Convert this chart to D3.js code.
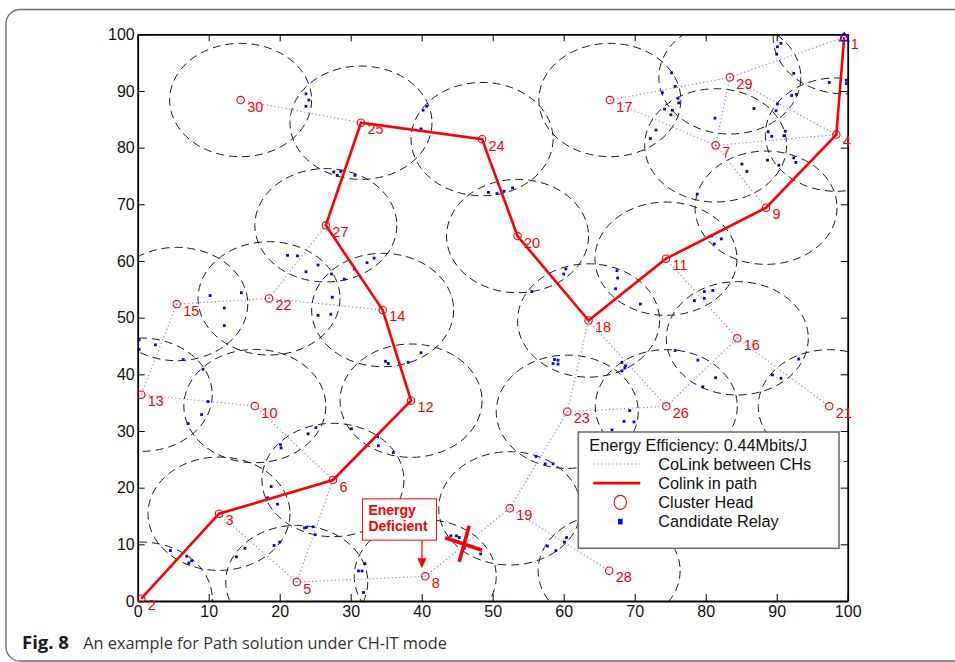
<!DOCTYPE html>
<html>
<head>
<meta charset="utf-8">
<script src="https://cdn.jsdelivr.net/npm/d3@7"></script>
<style>
  html, body { margin: 0; padding: 0; background: #fff; }
  svg { display: block; }
  .tick text { font-family: "Liberation Sans", Arial, Helvetica, sans-serif; }
</style>
</head>
<body>
<svg id="chart" width="955" height="662"></svg>
<script>
// Cluster heads: id, x, y (metres in a 100 x 100 field)
const chIds = [1, 2, 3, 4, 5, 6, 7, 8, 9, 10, 11, 12, 13, 14, 15, 16, 17, 18, 19, 20, 21, 22, 23, 24, 25, 26, 27, 28, 29, 30];
const chX   = [99.5, 0.5, 11.45, 98.4, 22.4, 27.5, 81.4, 40.5, 88.5, 16.5, 74.4, 38.5, 0.5, 34.5, 5.5, 84.45, 66.5, 63.5, 52.4, 53.5, 97.4, 18.5, 60.5, 48.5, 31.45, 74.45, 26.5, 66.4, 83.4, 14.5];
const chY   = [99.5, 0.4, 15.4, 82.3, 3.35, 21.35, 80.4, 4.35, 69.4, 34.4, 60.4, 35.35, 36.4, 51.35, 52.4, 46.35, 88.4, 49.5, 16.35, 64.4, 34.35, 53.4, 33.4, 81.5, 84.4, 34.35, 66.3, 5.35, 92.4, 88.4];

// Sink node (drawn with a triangle)
const sinkId = 1;

// Cluster coverage radius
const clusterRadius = 10;

// Cooperative links between neighbouring cluster heads
const coLinkFrom = [30, 15, 22, 22, 15, 13, 10, 3, 5, 5, 8, 19, 19, 23, 23, 18, 26, 16, 16, 17, 17, 29, 29, 29, 7, 7];
const coLinkTo   = [25, 22, 14, 27, 13, 10, 6, 5, 6, 8, 19, 23, 28, 18, 26, 26, 16, 21, 11, 29, 7, 1, 4, 7, 4, 9];

// Selected routing path from source CH 2 to the sink
const pathIds = [2, 3, 6, 12, 14, 27, 25, 24, 20, 18, 11, 9, 4, 1];

// Candidate relay nodes
const relayX = [23.7, 24.1, 23.7, 40.7, 40.2, 39.9, 27.6, 28.1, 28.6, 30.6, 49.4, 50.6, 51.6, 52.8,
  21.1, 22.5, 25.4, 23.7, 27.3, 29.1, 30.5, 32.3, 33.3, 10.2, 14.6, 12.2, 12.2, 27.4, 27.2, 25.4,
  0.2, 0.2, 2.5, 6.4, 9.2, 9.9, 9.0, 7.1, 20.1, 20.2, 24.0, 25.1, 18.8, 18.3, 19.7,
  23.5, 23.8, 24.7, 25.0, 20.0, 19.2, 15.1, 13.9, 4.6, 6.9, 7.2, 7.6, 31.1, 31.6, 32.0, 31.8,
  44.1, 44.9, 45.3, 46.0, 48.3, 30.1, 33.8, 33.9, 36.0, 34.9, 35.3, 38.1, 39.9,
  60.3, 60.0, 55.5, 67.5, 67.6, 67.3, 70.8, 80.8, 82.2, 81.2, 78.8, 85.1, 85.8,
  88.7, 90.3, 92.4, 92.7, 88.8, 89.3, 91.2, 91.0, 89.9, 90.1, 81.3, 86.8,
  90.1, 90.6, 90.0, 92.4, 97.4, 99.8, 99.8, 92.8, 92.1,
  75.2, 75.7, 73.9, 76.1, 76.2, 74.2, 75.3, 75.1, 73.0, 72.2,
  58.7, 59.2, 58.5, 59.2, 68.2, 68.7, 68.2, 68.6, 69.3, 68.5, 69.9, 66.8,
  56.1, 57.4, 58.5, 57.7, 58.9, 60.1, 60.4, 75.7, 78.9, 81.4, 79.6, 89.4, 90.6, 93.1,
  78.4, 79.8, 81.0, 79.8];
const relayY = [89.5, 88.4, 87.3, 87.3, 86.6, 83.3, 75.7, 75.1, 75.8, 75.1, 72.1, 71.9, 72.3, 72.9,
  61.0, 60.9, 59.3, 58.1, 57.7, 56.8, 58.6, 59.7, 60.5, 53.9, 54.4, 51.7, 48.6, 53.6, 50.6, 50.4,
  46.1, 44.4, 45.2, 42.6, 40.9, 35.2, 32.9, 31.3, 27.6, 27.0, 29.5, 30.6, 20.2, 18.2, 17.1,
  12.9, 13.0, 13.1, 11.7, 10.4, 9.8, 9.3, 7.8, 8.9, 7.9, 6.7, 7.1, 5.3, 5.3, 6.6, 1.5,
  11.5, 11.5, 11.2, 9.3, 8.3, 30.4, 29.0, 27.4, 26.2, 42.3, 41.9, 42.1, 43.8,
  58.6, 57.7, 54.6, 58.3, 57.0, 55.1, 52.4, 64.4, 63.9, 63.0, 71.8, 77.1, 75.8,
  77.8, 76.9, 78.2, 77.4, 82.8, 82.0, 82.9, 82.1, 86.5, 87.7, 85.2, 86.9,
  97.8, 98.4, 96.5, 93.1, 91.5, 91.9, 91.3, 89.4, 89.2,
  93.2, 90.8, 89.7, 88.7, 87.9, 86.8, 86.6, 85.8, 83.1, 81.6,
  42.6, 42.5, 41.9, 41.8, 42.1, 41.5, 40.6, 41.1, 33.6, 31.7, 31.6, 30.2,
  25.5, 24.2, 24.2, 9.7, 8.9, 10.4, 11.2, 44.2, 42.5, 39.4, 37.8, 39.9, 39.3, 42.7,
  53.0, 54.6, 54.8, 53.4];

// Axis ticks
const tickValues = [0, 10, 20, 30, 40, 50, 60, 70, 80, 90, 100];

// Legend entries and the efficiency figure
const efficiencyLabel = "Energy Efficiency: 0.44Mbits/J";
const legendLabels = ["CoLink between CHs", "Colink in path", "Cluster Head", "Candidate Relay"];

// Link that fails for lack of energy, and where its cross sits
const brokenLink = { from: 8, to: 19, crossX: 45.7, crossY: 10.2 };
const deficientNode = 8;
const deficientText = ["Energy", "Deficient"];

const caption = { bold: "Fig. 8", text: "An example for Path solution under CH-IT mode" };

// ---------------------------------------------------------------
const svg = d3.select("#chart");
const plot = { left: 137.7, right: 847.7, top: 34.3, bottom: 601 };

const x = d3.scaleLinear().domain([0, 100]).range([plot.left, plot.right]);
const y = d3.scaleLinear().domain([0, 100]).range([plot.bottom, plot.top]);

const font = '"Liberation Sans", Arial, Helvetica, sans-serif';
const RED = "#ff0000", BLUE = "#0000ff", LINK = "#8484ff";

const nodes = chIds.map((id, i) => ({ id, x: chX[i], y: chY[i] }));
const byId = new Map(nodes.map(d => [d.id, d]));
const relays = relayX.map((v, i) => ({ x: v, y: relayY[i] }));
const links = coLinkFrom.map((f, i) => ({ a: byId.get(f), b: byId.get(coLinkTo[i]) }));

// Outer figure frame
svg.append("rect")
  .attr("x", 6).attr("y", 9.5).attr("width", 980).attr("height", 651.5)
  .attr("rx", 14).attr("ry", 14)
  .attr("fill", "none").attr("stroke", "#6a6a6a").attr("stroke-width", 1.3);

// Clip to the axes box
svg.append("defs").append("clipPath").attr("id", "plotClip")
  .append("rect")
  .attr("x", plot.left).attr("y", plot.top)
  .attr("width", plot.right - plot.left).attr("height", plot.bottom - plot.top);

const g = svg.append("g").attr("clip-path", "url(#plotClip)");

// Cluster coverage circles (ellipses on screen because of unequal axis scaling)
g.append("g").selectAll("ellipse").data(nodes).join("ellipse")
  .attr("cx", d => x(d.x)).attr("cy", d => y(d.y))
  .attr("rx", x(clusterRadius) - x(0))
  .attr("ry", y(0) - y(clusterRadius))
  .attr("fill", "none").attr("stroke", "#1a1a1a").attr("stroke-width", 1)
  .attr("stroke-dasharray", "8,5");

// Cooperative links between CHs
g.append("g").selectAll("line").data(links).join("line")
  .attr("x1", d => x(d.a.x)).attr("y1", d => y(d.a.y))
  .attr("x2", d => x(d.b.x)).attr("y2", d => y(d.b.y))
  .attr("stroke", LINK).attr("stroke-width", 1.2)
  .attr("stroke-dasharray", "1.2,2.6");

// Candidate relays
g.append("g").selectAll("rect").data(relays).join("rect")
  .attr("x", d => x(d.x) - 1.4).attr("y", d => y(d.y) - 1.4)
  .attr("width", 2.8).attr("height", 2.8)
  .attr("fill", BLUE);

// Routing path
const line = d3.line().x(d => x(d.x)).y(d => y(d.y));
g.append("path")
  .datum(pathIds.map(id => byId.get(id)))
  .attr("d", line)
  .attr("fill", "none").attr("stroke", RED).attr("stroke-width", 2.6)
  .attr("stroke-linejoin", "miter");

// Axes (ticks point inwards on all four sides)
const fmt = d3.format("d");
const axB = svg.append("g").attr("transform", `translate(0,${plot.bottom})`)
  .call(d3.axisBottom(x).tickValues(tickValues).tickFormat(fmt).tickSizeInner(-7).tickSizeOuter(0).tickPadding(5));
const axL = svg.append("g").attr("transform", `translate(${plot.left},0)`)
  .call(d3.axisLeft(y).tickValues(tickValues).tickFormat(fmt).tickSizeInner(-7).tickSizeOuter(0).tickPadding(3));
const axT = svg.append("g").attr("transform", `translate(0,${plot.top})`)
  .call(d3.axisTop(x).tickValues(tickValues).tickFormat("").tickSizeInner(-7).tickSizeOuter(0));
const axR = svg.append("g").attr("transform", `translate(${plot.right},0)`)
  .call(d3.axisRight(y).tickValues(tickValues).tickFormat("").tickSizeInner(-7).tickSizeOuter(0));
[axB, axL, axT, axR].forEach(a => {
  a.select(".domain").attr("stroke", "#000").attr("stroke-width", 1.8);
  a.selectAll(".tick line").attr("stroke", "#000").attr("stroke-width", 1);
  a.selectAll(".tick text").attr("font-size", 16).attr("fill", "#111").attr("font-family", font);
});

// Cluster head markers and labels
const ng = svg.append("g");
ng.selectAll("circle").data(nodes).join("circle")
  .attr("cx", d => x(d.x)).attr("cy", d => y(d.y)).attr("r", 3.7)
  .attr("fill", "none").attr("stroke", RED).attr("stroke-width", 1.1);
const sink = byId.get(sinkId);
ng.append("path")
  .attr("d", d3.symbol(d3.symbolTriangle, 40)())
  .attr("transform", `translate(${x(sink.x)},${y(sink.y) + 1})`)
  .attr("fill", "none").attr("stroke", BLUE).attr("stroke-width", 1.1);
ng.selectAll("text").data(nodes).join("text")
  .attr("x", d => x(d.x) + 6.5).attr("y", d => y(d.y) + 11.5)
  .attr("font-family", font).attr("font-size", 14.5).attr("fill", RED)
  .text(d => d.id);

// Broken link cross
const cx = x(brokenLink.crossX), cy = y(brokenLink.crossY);
const cross = svg.append("g").attr("stroke", RED).attr("stroke-width", 3.6);
cross.append("line").attr("x1", cx - 17).attr("y1", cy - 5.5).attr("x2", cx + 20).attr("y2", cy + 7);
cross.append("line").attr("x1", cx + 7).attr("y1", cy - 17.5).attr("x2", cx - 3).attr("y2", cy + 18.5);

// "Energy Deficient" callout pointing at the depleted CH
const dn = byId.get(deficientNode);
const tipX = x(dn.x) - 3.3, tipY = y(dn.y) - 8;
const box = { x: tipX - 59.5, y: tipY - 69.5, w: 74, h: 41.3 };
svg.append("rect")
  .attr("x", box.x).attr("y", box.y).attr("width", box.w).attr("height", box.h)
  .attr("fill", "#fff").attr("stroke", RED).attr("stroke-width", 1);
deficientText.forEach((t, i) => {
  svg.append("text")
    .attr("x", box.x + 6).attr("y", box.y + 16 + i * 16.5)
    .attr("font-family", font).attr("font-size", 14).attr("font-weight", "bold")
    .attr("fill", RED).text(t);
});
svg.append("line")
  .attr("x1", tipX).attr("y1", box.y + box.h).attr("x2", tipX).attr("y2", tipY - 8)
  .attr("stroke", RED).attr("stroke-width", 1.2);
svg.append("path")
  .attr("d", `M${tipX - 4.5},${tipY - 10} L${tipX + 4.5},${tipY - 10} L${tipX},${tipY} Z`)
  .attr("fill", RED);

// Legend
const lg = svg.append("g");
const L = { x: 578.3, y: 432, w: 260.7, h: 116.3 };
lg.append("rect").attr("x", L.x).attr("y", L.y).attr("width", L.w).attr("height", L.h)
  .attr("fill", "#fff").attr("stroke", "#707070").attr("stroke-width", 1.6);
lg.append("text").attr("x", L.x + 11).attr("y", L.y + 18.5)
  .attr("font-family", font).attr("font-size", 16.3).attr("fill", "#111")
  .text(efficiencyLabel);
const rowY = i => L.y + 32 + i * 19.2;
legendLabels.forEach((t, i) => {
  lg.append("text").attr("x", L.x + 80).attr("y", rowY(i) + 5.8)
    .attr("font-family", font).attr("font-size", 16.3).attr("fill", "#111").text(t);
});
const sx0 = L.x + 15, sx1 = L.x + 62, smid = L.x + 42;
lg.append("line").attr("x1", sx0).attr("x2", sx1).attr("y1", rowY(0)).attr("y2", rowY(0))
  .attr("stroke", LINK).attr("stroke-width", 1.2).attr("stroke-dasharray", "1.2,2.6");
lg.append("line").attr("x1", sx0).attr("x2", sx1).attr("y1", rowY(1)).attr("y2", rowY(1))
  .attr("stroke", RED).attr("stroke-width", 2.8);
lg.append("ellipse").attr("cx", smid).attr("cy", rowY(2)).attr("rx", 6.2).attr("ry", 7)
  .attr("fill", "none").attr("stroke", RED).attr("stroke-width", 1.1);
lg.append("rect").attr("x", smid - 2.3).attr("y", rowY(3) - 2.8).attr("width", 4.6).attr("height", 5.6)
  .attr("fill", BLUE);

// Caption
const capFont = '"Open Sans", "Noto Sans", sans-serif';
svg.append("text").attr("x", 22).attr("y", 649)
  .attr("font-family", capFont).attr("font-size", 18.5).attr("font-weight", "bold")
  .attr("fill", "#1a1a1a").text(caption.bold);
svg.append("text").attr("x", 83.3).attr("y", 649)
  .attr("font-family", capFont).attr("font-size", 16.3).attr("fill", "#333")
  .text(caption.text);
</script>
</body>
</html>
